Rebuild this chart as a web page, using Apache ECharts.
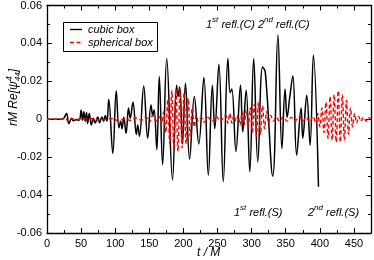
<!DOCTYPE html>
<html><head><meta charset="utf-8">
<script src="https://cdn.jsdelivr.net/npm/echarts@6/dist/echarts.min.js"></script>
<style>html,body{margin:0;padding:0;background:#fff}#c{width:374px;height:260px}</style>
</head><body><div id="c"></div>
<script>
// ---- data ----
const xTicks = [0, 50, 100, 150, 200, 250, 300, 350, 400, 450];
const yTicks = [-0.06, -0.04, -0.02, 0, 0.02, 0.04, 0.06];
const seriesNames = ['cubic box', 'spherical box'];

const cubicT = [0, 20, 24, 28.6, 32, 36, 38.5, 42, 47, 50, 52, 54, 56, 58, 59.5, 62, 65, 68, 70.5, 74.5, 77, 80.5, 83, 85.5, 88,
  90.5, 96.5, 101.5, 105.5, 108, 110, 112.5, 116, 119.5, 122, 126, 131, 133, 135.5, 141.8, 147.6, 152.5, 155, 157, 161,
  164.6, 169.5, 175.5, 184, 190, 192, 194.5, 198.6, 203, 209, 216, 222.5, 230, 236.5, 242.4, 246, 252, 258.4, 265.2,
  268.5, 271, 277, 283.7, 287, 292, 297.3, 303, 309, 316, 320, 331, 338.5, 344.4, 349, 352, 356, 360.4, 366, 372.5,
  375, 380.8, 385.7, 390.5, 398];
const cubicV = [0, 0, 0.0003, 0.003, -0.0023, 0.0005, -0.0008, -0.0003, -0.0005, 0.0047, -0.0005, 0.004, -0.001, 0.0035, -0.0023, 0.003, -0.003, 0.0005, -0.002, 0.0012, -0.0018, 0.0012, -0.001, 0.002, -0.001,
  0.0105, -0.018, 0.015, -0.0045, -0.001, -0.005, 0.001, -0.0074, 0.006, 0.0005, 0.009, -0.008, -0.003, -0.009, 0.0175, -0.010, 0.0075, 0.002, 0.005, -0.016,
  0.0225, -0.024, 0.032, -0.032, 0.018, 0.012, 0.017, -0.013, 0.019, -0.021, 0.012, -0.013, 0.022, -0.0295, 0.018, -0.005, 0.029, -0.033, 0.032,
  0.014, 0.016, -0.017, 0.018, -0.0067, 0.0153, -0.0277, 0.032, -0.0225, 0.0275, 0.025, -0.030, 0.0445, -0.0155, 0.016, 0.001, 0.012, 0.023, -0.019, 0.006,
  -0.010, 0.0126, -0.0137, 0.0337, -0.0356];

const sphT = [0, 20, 27, 31, 35, 45, 60, 80, 95, 105, 115, 122, 130, 138, 145, 150, 155, 160, 164, 168,
  171, 174, 177, 180, 183, 186, 189, 192, 195, 198, 201, 204, 207, 210, 213, 216, 219, 222,
  226, 231, 236, 242, 248, 254, 259, 262, 265, 268, 271, 274, 277, 280, 283, 286, 289, 292, 295, 298, 301, 304, 307, 310, 313, 316, 319, 322, 325, 328, 332,
  336, 341, 346, 352, 358, 364, 370, 375, 380, 385, 390, 394, 397,
  400, 403, 406, 409, 412, 415, 418, 421, 424, 427, 430, 433, 436, 439, 442, 445, 448, 451, 454, 457, 460, 464, 468, 472, 475];
const sphV = [0, 0, 0.0005, -0.0012, 0.0003, 0, 0.0005, -0.0005, 0.0004, -0.0008, 0.0003, -0.0006, 0.0008, -0.0005, 0.0012, -0.0015, 0.002, -0.001, 0.0015, -0.0025,
  0.004, -0.007, 0.010, -0.013, 0.015, -0.016, 0.016, -0.017, 0.016, -0.015, 0.014, -0.013, 0.011, -0.009, 0.006, -0.004, 0.002, -0.001,
  0.001, -0.0015, 0.001, -0.001, 0.0015, -0.001, 0.001, 0.002, -0.002, 0.003, -0.002, 0.002, -0.001, 0.002, -0.003, 0.004, -0.003, 0.005, -0.004, 0.006, -0.007, 0.008, -0.009, 0.009, -0.008, 0.007, -0.005, 0.004, -0.002, 0.002, -0.001,
  0.001, -0.001, 0.0012, -0.001, 0.001, -0.0008, 0.0015, -0.001, 0.001, -0.0015, 0.0015, -0.002, 0.003,
  -0.004, 0.006, -0.007, 0.009, -0.010, 0.012, -0.011, 0.013, -0.012, 0.015, -0.012, 0.013, -0.011, 0.010, -0.008, 0.006, -0.004, 0.003, -0.002, 0.0015, -0.001, 0.001, -0.001, 0.0008, 0];

// ---- chart ----
const FF = '"Liberation Sans", Arial, Helvetica, sans-serif';
const chart = echarts.init(document.getElementById('c'), null, {renderer: 'canvas'});
const zip = (a, b) => a.map((t, i) => [t, b[i]]);
const DASH = [4, 2.5];

const mctx = document.createElement('canvas').getContext('2d');
function measure(t, font) { mctx.font = font; return mctx.measureText(t).width; }
function pieces(parts, x0, y0) {
  let x = x0; const out = [];
  parts.forEach(p => {
    const font = 'italic ' + p.size + 'px ' + FF;
    out.push({type: 'text', x: x, y: y0 + (p.dy || 0), silent: true,
      style: {text: p.t, font: font, fill: '#000', align: 'left', textAlign: 'left', verticalAlign: 'middle', textVerticalAlign: 'middle'}});
    x += measure(p.t, font) + (p.gap || 0);
  });
  return out;
}

const gridL = 47, gridR = 1, gridT = 5, gridB = 27;
const axisCommon = {
  min: 0, max: 475, interval: 50,
  axisLine: {show: true, onZero: false, lineStyle: {color: '#000', width: 1.3}},
  axisTick: {show: true, inside: true, length: 5, lineStyle: {color: '#000', width: 1}},
  minorTick: {show: true, splitNumber: 2, length: 3, lineStyle: {color: '#000', width: 1}},
  splitLine: {show: false}
};
const yCommon = {
  min: -0.06, max: 0.06, interval: 0.02,
  axisLine: {show: true, onZero: false, lineStyle: {color: '#000', width: 1.3}},
  axisTick: {show: true, inside: true, length: 5, lineStyle: {color: '#000', width: 1}},
  minorTick: {show: true, splitNumber: 2, length: 3, lineStyle: {color: '#000', width: 1}},
  splitLine: {show: false}
};

const graphics = [];
// axis names
graphics.push(...pieces([{t: 't / M', size: 12}], 197, 253));
graphics.push({type: 'group', x: 14, y: 126, rotation: Math.PI / 2,
  children: pieces([{t: 'rM Re[ψ', size: 12}, {t: '4', size: 9, dy: -5, gap: -5}, {t: '44', size: 8, dy: 4}, {t: ']', size: 12}], 0, 0)});
// annotations
graphics.push(...pieces([{t: '1', size: 11}, {t: 'st', size: 8, dy: -5}, {t: ' refl.(C)', size: 11}], 206, 25));
graphics.push(...pieces([{t: '2', size: 11}, {t: 'nd', size: 8, dy: -5}, {t: ' refl.(C)', size: 11}], 258, 25));
graphics.push(...pieces([{t: '1', size: 11}, {t: 'st', size: 8, dy: -5}, {t: ' refl.(S)', size: 11}], 234, 213));
graphics.push(...pieces([{t: '2', size: 11}, {t: 'nd', size: 8, dy: -5}, {t: ' refl.(S)', size: 11}], 308, 213));
// legend box
graphics.push({type: 'rect', shape: {x: 63.5, y: 22.5, width: 94, height: 29}, silent: true,
  style: {fill: '#fff', stroke: '#000', lineWidth: 1}, z: 10});
graphics.push({type: 'line', shape: {x1: 70, y1: 29.5, x2: 82, y2: 29.5}, silent: true,
  style: {stroke: '#000', lineWidth: 1.4}, z: 11});
graphics.push({type: 'line', shape: {x1: 70, y1: 42.5, x2: 82, y2: 42.5}, silent: true,
  style: {stroke: '#ff0000', lineWidth: 1.4, lineDash: DASH}, z: 11});
pieces([{t: seriesNames[0], size: 11}], 88, 30).forEach(e => { e.z = 11; graphics.push(e); });
pieces([{t: seriesNames[1], size: 11}], 88, 43).forEach(e => { e.z = 11; graphics.push(e); });

chart.setOption({
  animation: false,
  backgroundColor: '#fff',
  grid: {left: gridL, right: gridR, top: gridT, bottom: gridB, containLabel: false},
  xAxis: [
    Object.assign({type: 'value', position: 'bottom',
      axisLabel: {show: true, color: '#000', fontSize: 11, fontFamily: FF, margin: 5,
        formatter: v => (xTicks.indexOf(v) >= 0 ? String(v) : '')}}, axisCommon),
    Object.assign({type: 'value', position: 'top', axisLabel: {show: false}}, axisCommon)
  ],
  yAxis: [
    Object.assign({type: 'value', position: 'left',
      axisLabel: {show: true, color: '#000', fontSize: 11, fontFamily: FF, margin: 5,
        formatter: v => { const k = yTicks.find(t => Math.abs(t - v) < 1e-9); return k === undefined ? '' : (k === 0 ? '0' : String(k)); }}}, yCommon),
    Object.assign({type: 'value', position: 'right', axisLabel: {show: false}}, yCommon)
  ],
  series: [
    {name: seriesNames[0], type: 'line', data: zip(cubicT, cubicV), showSymbol: false, symbol: 'none',
      smooth: 0.4, color: '#000', lineStyle: {color: '#000', width: 1.5}, clip: true},
    {name: seriesNames[1], type: 'line', data: zip(sphT, sphV), showSymbol: false, symbol: 'none',
      smooth: 0.4, color: '#ff0000', lineStyle: {color: '#ff0000', width: 1.4, type: DASH}, clip: true}
  ],
  graphic: graphics
});
</script></body></html>
